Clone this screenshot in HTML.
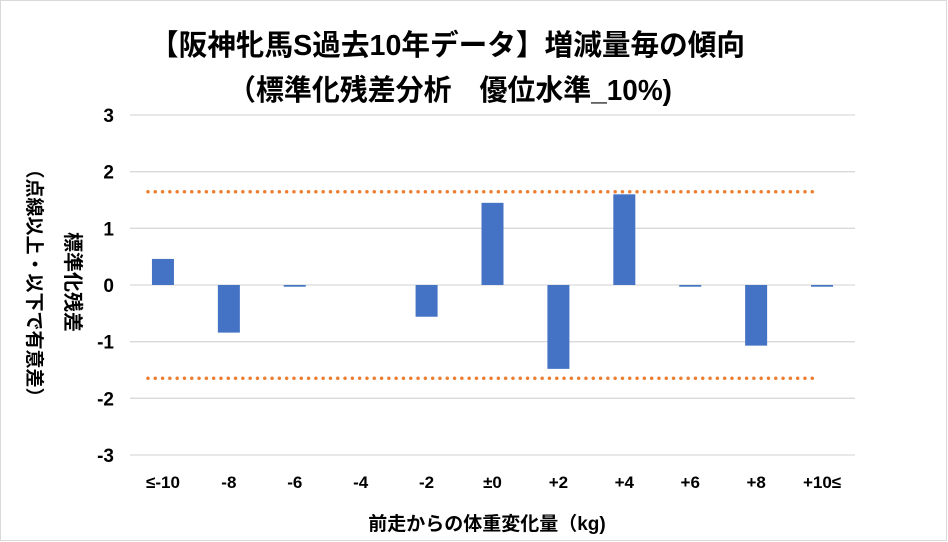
<!DOCTYPE html>
<html><head><meta charset="utf-8"><style>
body{margin:0;background:#fff;}
svg{display:block;font-family:"Liberation Sans","Noto Sans CJK JP",sans-serif;}
</style></head><body>
<svg id="chart" width="948" height="542">
<rect x="0.5" y="0.5" width="946" height="540" fill="#fff" stroke="#d9d9d9"/>
<text x="150" y="55" textLength="595" lengthAdjust="spacingAndGlyphs" font-size="29" font-weight="bold">【阪神牝馬S過去10年データ】増減量毎の傾向</text>
<text x="228" y="100" textLength="444" lengthAdjust="spacingAndGlyphs" font-size="29" font-weight="bold">（標準化残差分析　優位水準_10%)</text>
<g id="grid"></g><g id="bars"></g><g id="refs"></g><g id="labels"></g>
<text transform="translate(66,282) rotate(90)" text-anchor="middle" font-size="20" font-weight="bold">標準化残差</text>
<text transform="translate(28,283) rotate(90)" text-anchor="middle" font-size="19" font-weight="bold">（点線以上・以下で有意差）</text>
<text x="487" y="530" text-anchor="middle" font-size="19" font-weight="bold">前走からの体重変化量（kg)</text>
</svg>
<script>
const categories=["≤-10","-8","-6","-4","-2","±0","+2","+4","+6","+8","+10≤"];
const values=[0.46,-0.84,-0.03,0,-0.56,1.45,-1.48,1.6,-0.03,-1.07,-0.03];
const yTicks=[3,2,1,0,-1,-2,-3];
const threshold=[1.645,-1.645];
const NS="http://www.w3.org/2000/svg";
const x0=130,x1=855,yTop=115,yBot=455,yMin=-3,yMax=3;
const yS=v=>yTop+(yMax-v)/(yMax-yMin)*(yBot-yTop);
const band=(x1-x0)/categories.length;
const xC=i=>x0+band*(i+0.5);
function mk(t,a,p){const e=document.createElementNS(NS,t);for(const k in a)e.setAttribute(k,a[k]);document.getElementById(p).appendChild(e);return e;}
yTicks.forEach(v=>{
 const l=mk("line",{x1:x0,x2:x1,y1:yS(v),y2:yS(v),stroke:"#d9d9d9","stroke-width":1.3},"grid");
 
 
 const t=mk("text",{x:x0-16,y:yS(v)+7,"text-anchor":"end","font-size":19,"font-weight":"bold"},"labels");
 t.textContent=v;
 
 
});
values.forEach((v,i)=>{
 const y=Math.min(yS(v),yS(0)),h=Math.abs(yS(v)-yS(0));
 const r=mk("rect",{x:xC(i)-11,y:y,width:22,height:h,fill:"#4472c4"},"bars");
 
 
});
categories.forEach((c,i)=>{
 const t=mk("text",{x:xC(i),y:488,"text-anchor":"middle","font-size":17,"font-weight":"bold"},"labels");
 t.textContent=c;
 
 
});
threshold.forEach(v=>{
 const l=mk("line",{x1:xC(0)-15,x2:xC(categories.length-1)-3,y1:yS(v),y2:yS(v),stroke:"#ed7d31","stroke-width":3.5,"stroke-linecap":"round","stroke-dasharray":"0 7.3"},"refs");
 
 
});
</script>
</body></html>
